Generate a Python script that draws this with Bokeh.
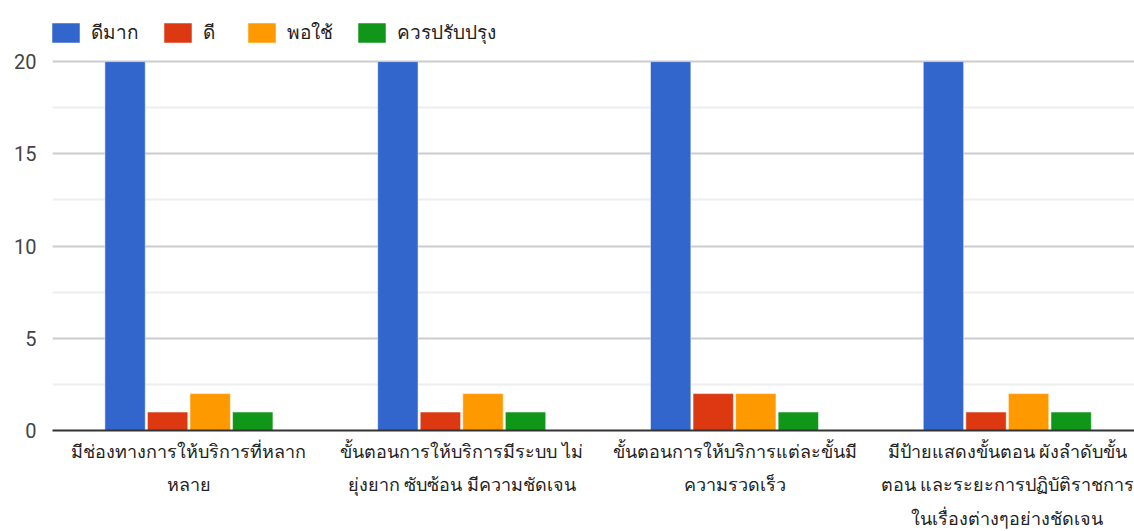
from bokeh.plotting import figure
from bokeh.models import ColumnDataSource, Range1d, FixedTicker, Legend, LegendItem
from bokeh.transform import dodge
from bokeh.embed import file_html
from bokeh.resources import INLINE

categories = [
    "มีช่องทางการให้บริการที่หลาก\nหลาย",
    "ขั้นตอนการให้บริการมีระบบ ไม่\nยุ่งยาก ซับซ้อน มีความชัดเจน",
    "ขั้นตอนการให้บริการแต่ละขั้นมี\nความรวดเร็ว",
    "มีป้ายแสดงขั้นตอน ผังลำดับขั้น\nตอน และระยะการปฏิบัติราชการ\nในเรื่องต่างๆอย่างชัดเจน",
]
series_names = ["ดีมาก", "ดี", "พอใช้", "ควรปรับปรุง"]
very_good = [20, 20, 20, 20]
good = [1, 1, 2, 1]
fair = [2, 2, 2, 2]
improve = [1, 1, 1, 1]
y_ticks = [0, 5, 10, 15, 20]

colors = ["#3366cc", "#dc3912", "#ff9900", "#109618"]
offsets = [-0.234, -0.078, 0.078, 0.234]
bar_w = 0.148

xpos = list(range(len(categories)))
src = ColumnDataSource(dict(x=xpos, s0=very_good, s1=good, s2=fair, s3=improve))

FONT = "Roboto"
W, H = 1134, 531
left, top, bottom = 52, 15, 101

p = figure(width=W, height=H, output_backend="svg", toolbar_location=None,
           x_range=Range1d(-0.5, -0.5 + (W - left) / 272.8),
           y_range=Range1d(0, 22.5),
           min_border_left=left, min_border_right=0, min_border_top=top,
           min_border_bottom=bottom)
p.outline_line_color = None
p.background_fill_color = "white"
p.border_fill_color = "white"

renderers = []
for i, key in enumerate(["s0", "s1", "s2", "s3"]):
    r = p.vbar(x=dodge("x", offsets[i], range=p.x_range), top=key, width=bar_w,
               source=src, fill_color=colors[i], line_color="white",
               line_alpha=0.5, line_width=1)
    renderers.append(r)

legend = Legend(items=[LegendItem(label=series_names[i], renderers=[renderers[i]])
                       for i in range(4)],
                orientation="horizontal", location=(-4, 383),
                glyph_width=35, glyph_height=25, label_standoff=8, spacing=21,
                padding=0, margin=0, border_line_color=None,
                background_fill_alpha=0,
                label_text_font=FONT, label_text_font_size="19px",
                label_text_color="#222222")
p.add_layout(legend, "center")

# axes
p.xaxis.ticker = FixedTicker(ticks=xpos)
p.xaxis.major_label_overrides = {i: c for i, c in enumerate(categories)}
p.xaxis.major_tick_line_color = None
p.xaxis.minor_tick_line_color = None
p.xaxis.axis_line_color = "#333333"
p.xaxis.axis_line_width = 2
p.xaxis.major_label_text_font = FONT
p.xaxis.major_label_text_font_size = "18px"
p.xaxis.major_label_text_color = "#222222"
p.xaxis.major_label_text_line_height = 1.6
p.xaxis.major_label_standoff = 4

p.yaxis.ticker = FixedTicker(ticks=y_ticks, minor_ticks=[2.5, 7.5, 12.5, 17.5, 22.5])
p.yaxis.axis_line_color = None
p.yaxis.major_tick_line_color = None
p.yaxis.minor_tick_line_color = None
p.yaxis.major_label_text_font = FONT
p.yaxis.major_label_text_font_size = "20px"
p.yaxis.major_label_text_color = "#444444"
p.yaxis.major_label_standoff = 10

p.xgrid.grid_line_color = None
p.ygrid.grid_line_color = "#cccccc"
p.ygrid.grid_line_width = 2
p.ygrid.minor_grid_line_color = "#eeeeee"
p.ygrid.minor_grid_line_width = 2

open("out.html", "w").write(file_html(p, INLINE))
